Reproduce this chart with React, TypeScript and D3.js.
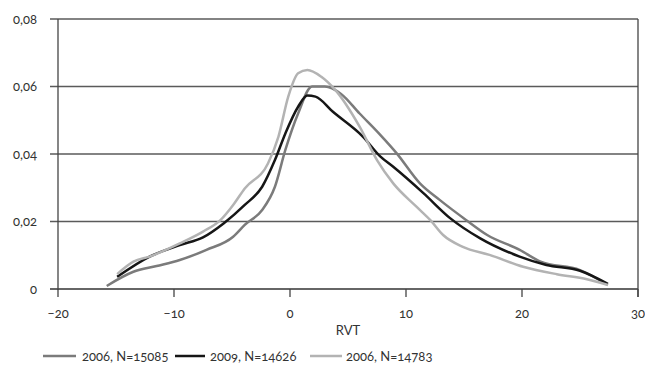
import React from "react";
import * as d3 from "d3";

// Density of RVT by survey, three samples
const rvt2006a = [-15.8, -13.5, -11.5, -9.5, -7.2, -4.9, -3.9, -2.4, -1.3, -0.4, 0.7, 1.9, 3.0, 4.4, 6.0, 7.8, 9.2, 11.2, 12.9, 15.2, 17.0, 19.8, 21.6, 25.0, 27.4];
const dens2006a = [0.0009, 0.0051, 0.0068, 0.0086, 0.0116, 0.0155, 0.019, 0.0234, 0.0303, 0.0412, 0.052, 0.060, 0.060, 0.0578, 0.052, 0.0456, 0.0402, 0.0313, 0.0264, 0.0204, 0.016, 0.0116, 0.0081, 0.0056, 0.0012];

const rvt2009 = [-14.9, -12.1, -9.5, -7.5, -5.7, -3.9, -2.4, -1.3, -0.4, 0.7, 1.5, 2.2, 3.7, 6.3, 7.8, 8.9, 11.5, 13.8, 16.4, 19.8, 22.1, 25.0, 27.4];
const dens2009 = [0.0036, 0.0096, 0.013, 0.0153, 0.0195, 0.0249, 0.0303, 0.0382, 0.0461, 0.054, 0.0573, 0.057, 0.0525, 0.0451, 0.0392, 0.0362, 0.0284, 0.021, 0.015, 0.0096, 0.0071, 0.0054, 0.0015];

const rvt2006b = [-14.9, -13.5, -12.1, -9.5, -7.5, -6.0, -4.9, -3.9, -1.9, -1.0, -0.15, 0.7, 1.5, 2.7, 3.9, 6.0, 7.5, 8.9, 10.9, 12.1, 13.2, 14.9, 17.2, 20.1, 23.0, 25.6, 27.4];
const dens2006b = [0.0044, 0.0081, 0.0096, 0.0135, 0.017, 0.0204, 0.0249, 0.0298, 0.0372, 0.0451, 0.057, 0.0639, 0.0649, 0.0629, 0.059, 0.0481, 0.0382, 0.0313, 0.0244, 0.0204, 0.016, 0.0125, 0.0101, 0.0066, 0.0044, 0.0029, 0.0012];

const seriesNames = ["2006, N=15085", "2009, N=14626", "2006, N=14783"];
const seriesColors = ["#7b7b7b", "#161616", "#b3b3b3"];

const xTicks = [-20, -10, 0, 10, 20, 30];
const yTicks = [0, 0.02, 0.04, 0.06, 0.08];

const W = 645;
const H = 370;
const left = 58;
const right = 638;
const top = 19;
const bottom = 289;

const fontFamily = "Lato, 'Open Sans', sans-serif";

export default function App() {
  const x = d3.scaleLinear().domain([-20, 30]).range([left, right]);
  const y = d3.scaleLinear().domain([0, 0.08]).range([bottom, top]);

  const series = [
    { xs: rvt2006a, ys: dens2006a },
    { xs: rvt2009, ys: dens2009 },
    { xs: rvt2006b, ys: dens2006b },
  ].map((s) => s.xs.map((v, i) => [v, s.ys[i]] as [number, number]));

  const line = d3
    .line<[number, number]>()
    .x((d) => x(d[0]))
    .y((d) => y(d[1]))
    .curve(d3.curveMonotoneX);

  const fmtY = (v: number) => (v === 0 ? "0" : v.toFixed(2).replace(".", ","));

  const legendItems = [
    { x1: 43, x2: 76, tx: 82 },
    { x1: 175, x2: 205, tx: 210 },
    { x1: 310, x2: 342, tx: 346 },
  ];

  return (
    <svg
      width={W}
      height={H}
      style={{ position: "absolute", left: 0, top: 0, background: "#fff" }}
      fontFamily={fontFamily}
    >
      {/* horizontal grid */}
      {yTicks.map((t) => (
        <line key={"g" + t} x1={left - 8} x2={right} y1={y(t)} y2={y(t)} stroke={t === 0 ? "#333" : "#5a5a5a"} strokeWidth={1.3} />
      ))}
      {/* axes and frame */}
      <line x1={left} x2={left} y1={top} y2={bottom + 1} stroke="#444" strokeWidth={1.3} />
      <line x1={right} x2={right} y1={top} y2={bottom + 8} stroke="#444" strokeWidth={1.3} />
      {xTicks.map((t) => (
        <line key={"xt" + t} x1={x(t)} x2={x(t)} y1={bottom} y2={bottom + 8} stroke="#444" strokeWidth={1.3} />
      ))}
      {/* y labels */}
      {yTicks.map((t) => (
        <text
          key={"yl" + t}
          x={37}
          y={y(t)}
          dy="0.35em"
          textAnchor="end"
          fontSize={13}
          fill="#333"
          style={{ fontVariantNumeric: "oldstyle-nums" }}
        >
          {fmtY(t)}
        </text>
      ))}
      {/* x labels */}
      {xTicks.map((t) => (
        <text
          key={"xl" + t}
          x={x(t)}
          y={318}
          textAnchor="middle"
          fontSize={13}
          fill="#333"
          style={{ fontVariantNumeric: "oldstyle-nums" }}
        >
          {t < 0 ? "\u2013" + Math.abs(t) : String(t)}
        </text>
      ))}
      <text x={(left + right) / 2} y={335} textAnchor="middle" fontSize={13} fill="#333">
        RVT
      </text>
      {/* curves */}
      {series.map((s, i) => (
        <path key={"s" + i} d={line(s) || ""} fill="none" stroke={seriesColors[i]} strokeWidth={2.5} strokeLinejoin="round" />
      ))}
      {/* legend */}
      {legendItems.map((l, i) => (
        <g key={"lg" + i}>
          <line x1={l.x1} x2={l.x2} y1={356} y2={356} stroke={seriesColors[i]} strokeWidth={2.5} />
          <text
            x={l.tx}
            y={356}
            dy="0.35em"
            fontSize={13}
            fill="#333"
            style={{ fontVariantNumeric: "oldstyle-nums" }}
          >
            {seriesNames[i]}
          </text>
        </g>
      ))}
    </svg>
  );
}
